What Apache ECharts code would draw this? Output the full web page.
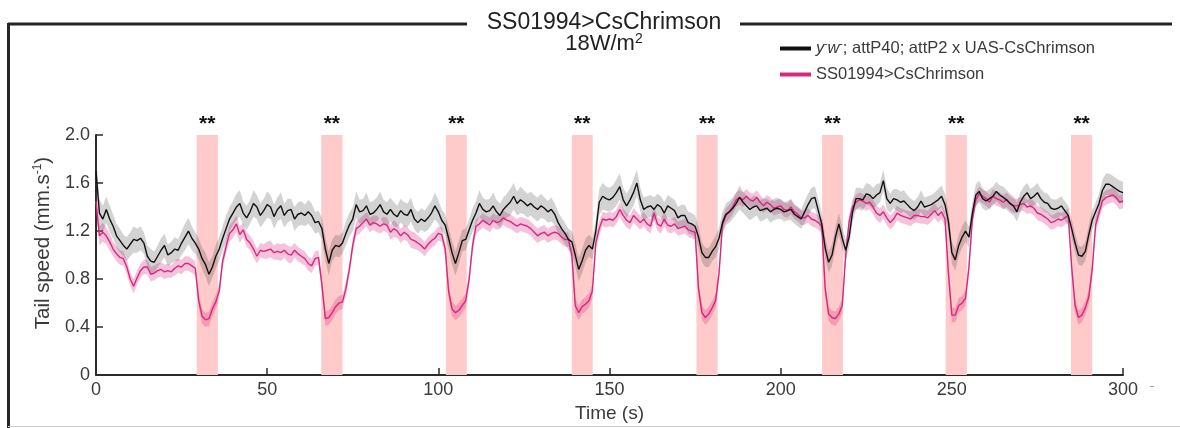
<!DOCTYPE html>
<html>
<head>
<meta charset="utf-8">
<script src="https://cdn.jsdelivr.net/npm/echarts@6/dist/echarts.min.js"></script>
<style>html,body{margin:0;padding:0;background:#fff}#c{width:1180px;height:428px}</style>
</head>
<body>
<div id="c"></div>
<script>
// ---------- data ----------
const ctrlName = 'y-w-; attP40; attP2 x UAS-CsChrimson';
const expName = 'SS01994>CsChrimson';
const titleText = 'SS01994>CsChrimson';
const subtitleText = '18W/m{sup|2}';
const xTicks = [0, 50, 100, 150, 200, 250, 300];
const yTicks = [0, 0.4, 0.8, 1.2, 1.6, 2.0];
const stimStart = [29.4, 65.8, 102.2, 139.0, 175.4, 212.1, 248.2, 284.8];
const stimEnd   = [35.6, 72.0, 108.3, 145.1, 181.6, 218.2, 254.4, 291.0];
const stimMark = ['**', '**', '**', '**', '**', '**', '**', '**'];

// mean tail speed, one value per second, t = 0..300 s
const ctrlMean = [
1.70,1.35,1.30,1.38,1.30,1.24,1.16,1.12,1.08,1.05,
1.09,1.13,1.12,1.14,1.10,0.99,0.95,0.94,0.99,1.04,
1.08,1.00,1.02,1.05,1.04,1.10,1.15,1.20,1.14,1.10,
1.05,0.97,0.92,0.84,0.90,0.99,1.05,1.14,1.22,1.30,
1.35,1.40,1.43,1.35,1.31,1.36,1.43,1.40,1.33,1.37,
1.42,1.40,1.32,1.38,1.41,1.33,1.37,1.38,1.30,1.34,
1.35,1.33,1.36,1.33,1.27,1.28,1.22,1.05,0.93,1.04,
1.08,1.07,1.10,1.18,1.25,1.30,1.42,1.36,1.37,1.41,
1.34,1.35,1.38,1.42,1.36,1.34,1.38,1.34,1.32,1.37,
1.34,1.33,1.38,1.30,1.27,1.30,1.28,1.31,1.35,1.41,
1.36,1.29,1.25,1.14,1.02,0.93,1.02,1.12,1.13,1.21,
1.29,1.35,1.43,1.38,1.36,1.37,1.41,1.36,1.33,1.38,
1.41,1.44,1.49,1.43,1.46,1.44,1.41,1.43,1.40,1.38,
1.41,1.39,1.36,1.38,1.34,1.27,1.22,1.18,1.13,1.11,
1.00,0.88,0.95,1.04,1.08,1.05,1.20,1.44,1.49,1.47,
1.46,1.48,1.52,1.57,1.46,1.41,1.46,1.52,1.60,1.46,
1.38,1.40,1.41,1.38,1.42,1.40,1.35,1.41,1.39,1.37,
1.31,1.33,1.33,1.27,1.26,1.24,1.15,1.02,0.98,0.98,
1.03,1.07,1.14,1.27,1.34,1.36,1.39,1.43,1.48,1.44,
1.41,1.38,1.40,1.41,1.37,1.38,1.39,1.36,1.38,1.39,
1.38,1.36,1.37,1.38,1.34,1.32,1.30,1.36,1.42,1.47,
1.48,1.37,1.26,1.06,0.94,1.00,1.15,1.26,1.14,1.04,
1.15,1.36,1.47,1.47,1.46,1.51,1.50,1.47,1.50,1.52,
1.62,1.47,1.43,1.47,1.46,1.44,1.45,1.42,1.39,1.37,
1.40,1.45,1.40,1.41,1.42,1.44,1.46,1.49,1.42,1.28,
1.02,0.96,1.08,1.15,1.20,1.15,1.35,1.50,1.53,1.47,
1.45,1.47,1.49,1.53,1.50,1.48,1.46,1.43,1.41,1.36,
1.44,1.49,1.52,1.47,1.49,1.52,1.47,1.44,1.43,1.39,
1.38,1.39,1.41,1.37,1.33,1.22,1.10,1.00,0.99,1.03,
1.17,1.29,1.36,1.43,1.54,1.59,1.59,1.57,1.55,1.53,
1.52];

const expMean = [
1.45,1.16,1.19,1.16,1.11,1.05,1.01,0.98,0.97,0.90,
0.80,0.74,0.81,0.87,0.90,0.90,0.84,0.85,0.87,0.88,
0.86,0.87,0.86,0.89,0.91,0.90,0.93,0.93,0.91,0.89,
0.62,0.49,0.46,0.47,0.55,0.61,0.70,0.95,1.07,1.18,
1.21,1.26,1.17,1.21,1.13,1.10,1.05,0.99,1.04,1.03,
1.04,1.05,1.02,1.03,1.02,1.04,1.01,1.00,1.04,1.01,
0.99,0.97,0.93,0.91,0.97,0.98,0.75,0.47,0.48,0.52,
0.57,0.60,0.61,0.72,0.88,1.08,1.22,1.24,1.27,1.30,
1.25,1.27,1.26,1.24,1.26,1.25,1.19,1.22,1.20,1.16,
1.19,1.17,1.13,1.12,1.10,1.08,1.05,1.09,1.12,1.14,
1.18,1.17,1.05,0.70,0.55,0.52,0.54,0.58,0.62,0.80,
1.08,1.24,1.26,1.29,1.27,1.25,1.29,1.27,1.28,1.31,
1.29,1.28,1.26,1.24,1.26,1.25,1.24,1.22,1.19,1.16,
1.18,1.19,1.16,1.18,1.19,1.18,1.15,1.13,1.13,1.00,
0.58,0.52,0.57,0.59,0.62,0.70,1.10,1.22,1.30,1.29,
1.30,1.29,1.32,1.38,1.33,1.29,1.27,1.33,1.30,1.27,
1.30,1.26,1.24,1.35,1.26,1.24,1.30,1.25,1.24,1.26,
1.22,1.23,1.24,1.21,1.20,1.19,0.72,0.52,0.48,0.51,
0.56,0.62,0.85,1.25,1.33,1.36,1.40,1.46,1.48,1.46,
1.49,1.46,1.45,1.48,1.44,1.41,1.44,1.42,1.39,1.40,
1.41,1.38,1.37,1.40,1.36,1.34,1.31,1.31,1.33,1.30,
1.29,1.27,1.24,0.72,0.51,0.48,0.47,0.51,0.58,1.00,
1.28,1.40,1.44,1.46,1.45,1.43,1.44,1.40,1.35,1.33,
1.36,1.31,1.27,1.30,1.35,1.33,1.32,1.31,1.30,1.33,
1.33,1.32,1.32,1.31,1.34,1.37,1.33,1.36,1.30,0.85,
0.50,0.50,0.58,0.60,0.64,0.90,1.30,1.46,1.51,1.49,
1.47,1.44,1.49,1.47,1.46,1.44,1.46,1.43,1.41,1.41,
1.42,1.43,1.40,1.41,1.39,1.35,1.34,1.32,1.30,1.27,
1.28,1.30,1.29,1.31,1.33,0.90,0.58,0.48,0.50,0.56,
0.65,0.88,1.25,1.35,1.45,1.48,1.49,1.50,1.48,1.44,
1.45];

// half-width of the shaded s.e.m. bands, one value per second
const ctrlSem = [
0.13,0.12,0.11,0.11,0.11,0.10,0.10,0.10,0.09,0.10,
0.10,0.11,0.10,0.10,0.09,0.09,0.10,0.09,0.09,0.10,
0.10,0.09,0.09,0.10,0.09,0.10,0.11,0.11,0.10,0.09,
0.09,0.09,0.10,0.10,0.09,0.10,0.10,0.10,0.11,0.10,
0.10,0.11,0.11,0.10,0.10,0.10,0.11,0.10,0.10,0.10,
0.11,0.10,0.10,0.10,0.11,0.10,0.10,0.09,0.10,0.10,
0.10,0.09,0.10,0.10,0.09,0.09,0.09,0.10,0.10,0.09,
0.09,0.09,0.09,0.10,0.10,0.10,0.11,0.10,0.10,0.11,
0.10,0.10,0.10,0.11,0.10,0.10,0.10,0.10,0.09,0.10,
0.10,0.10,0.10,0.09,0.09,0.09,0.09,0.10,0.10,0.11,
0.10,0.09,0.09,0.09,0.10,0.10,0.10,0.09,0.09,0.09,
0.10,0.10,0.11,0.10,0.10,0.10,0.11,0.10,0.10,0.10,
0.10,0.11,0.11,0.10,0.11,0.10,0.10,0.10,0.10,0.10,
0.10,0.09,0.09,0.10,0.09,0.09,0.09,0.09,0.09,0.09,
0.10,0.10,0.10,0.10,0.09,0.09,0.10,0.11,0.11,0.10,
0.10,0.10,0.11,0.11,0.10,0.10,0.10,0.11,0.11,0.10,
0.10,0.09,0.09,0.10,0.09,0.09,0.09,0.09,0.09,0.09,
0.09,0.09,0.09,0.09,0.09,0.09,0.09,0.08,0.08,0.08,
0.08,0.09,0.09,0.09,0.09,0.09,0.09,0.09,0.10,0.09,
0.09,0.09,0.09,0.08,0.09,0.09,0.08,0.09,0.09,0.09,
0.08,0.08,0.08,0.09,0.08,0.08,0.08,0.09,0.09,0.09,
0.09,0.09,0.09,0.09,0.09,0.09,0.09,0.09,0.09,0.09,
0.09,0.09,0.09,0.09,0.09,0.09,0.09,0.09,0.09,0.08,
0.09,0.09,0.08,0.08,0.09,0.09,0.09,0.08,0.08,0.08,
0.08,0.09,0.08,0.08,0.08,0.08,0.09,0.09,0.09,0.09,
0.09,0.09,0.09,0.09,0.09,0.09,0.09,0.09,0.09,0.08,
0.08,0.08,0.08,0.08,0.08,0.09,0.08,0.08,0.08,0.08,
0.08,0.08,0.08,0.08,0.08,0.08,0.08,0.08,0.08,0.08,
0.08,0.08,0.08,0.08,0.08,0.08,0.08,0.08,0.08,0.08,
0.08,0.08,0.08,0.08,0.09,0.09,0.09,0.09,0.09,0.09,
0.09];

const expSem = [
0.09,0.08,0.08,0.07,0.07,0.06,0.06,0.06,0.06,0.06,
0.06,0.06,0.06,0.06,0.06,0.06,0.06,0.06,0.06,0.06,
0.06,0.06,0.05,0.06,0.06,0.06,0.06,0.06,0.06,0.06,
0.06,0.06,0.06,0.06,0.06,0.06,0.06,0.06,0.06,0.07,
0.07,0.07,0.07,0.06,0.06,0.06,0.07,0.06,0.06,0.06,
0.07,0.07,0.06,0.07,0.07,0.06,0.07,0.07,0.06,0.06,
0.06,0.06,0.06,0.06,0.06,0.06,0.06,0.06,0.06,0.06,
0.06,0.06,0.06,0.06,0.06,0.06,0.06,0.06,0.06,0.06,
0.06,0.06,0.07,0.06,0.06,0.06,0.06,0.07,0.06,0.06,
0.06,0.06,0.07,0.07,0.06,0.06,0.06,0.06,0.06,0.06,
0.06,0.06,0.06,0.06,0.06,0.06,0.06,0.06,0.06,0.06,
0.06,0.06,0.06,0.06,0.06,0.06,0.06,0.06,0.06,0.06,
0.06,0.06,0.06,0.06,0.06,0.06,0.06,0.06,0.06,0.06,
0.06,0.06,0.06,0.06,0.06,0.06,0.06,0.06,0.06,0.06,
0.06,0.06,0.06,0.06,0.06,0.06,0.06,0.06,0.06,0.06,
0.06,0.06,0.06,0.06,0.06,0.06,0.06,0.06,0.06,0.06,
0.06,0.06,0.06,0.06,0.06,0.06,0.06,0.06,0.06,0.06,
0.06,0.06,0.06,0.06,0.06,0.06,0.06,0.06,0.06,0.06,
0.06,0.06,0.06,0.06,0.06,0.06,0.06,0.06,0.06,0.06,
0.06,0.06,0.06,0.06,0.06,0.06,0.06,0.06,0.06,0.06,
0.06,0.06,0.06,0.06,0.06,0.06,0.06,0.06,0.06,0.06,
0.06,0.06,0.06,0.06,0.06,0.06,0.06,0.06,0.06,0.06,
0.06,0.06,0.06,0.06,0.06,0.06,0.06,0.06,0.06,0.06,
0.06,0.06,0.06,0.06,0.06,0.06,0.06,0.06,0.06,0.06,
0.06,0.06,0.06,0.06,0.06,0.06,0.06,0.06,0.06,0.06,
0.06,0.06,0.06,0.06,0.06,0.06,0.06,0.06,0.06,0.06,
0.06,0.06,0.06,0.06,0.06,0.06,0.06,0.06,0.06,0.06,
0.06,0.06,0.06,0.06,0.06,0.06,0.06,0.06,0.06,0.06,
0.06,0.06,0.06,0.06,0.06,0.06,0.06,0.06,0.06,0.06,
0.06,0.06,0.06,0.06,0.06,0.06,0.06,0.06,0.06,0.06,
0.06];

// ---------- chart ----------
const FONT = '"Liberation Sans", Arial, sans-serif';
const TXT = '#3a3a3a';
const PINK = '#d8287e';

const pts = arr => arr.map((v, i) => [i, v]);

// shaded s.e.m. band drawn as one polygon through the axis coordinates
function band(mean, sem, fill, z) {
  const rows = mean.map((v, i) => [i, +(v - sem[i]).toFixed(3), +(v + sem[i]).toFixed(3)]);
  return {
    type: 'custom', silent: true, z: z, clip: true,
    data: rows,
    encode: { x: 0, y: [1, 2] },
    renderItem: (params, api) => {
      if (params.dataIndex !== 0) return null;
      const up = rows.map(r => api.coord([r[0], r[2]]));
      const lo = rows.map(r => api.coord([r[0], r[1]])).reverse();
      return { type: 'polygon', shape: { points: up.concat(lo) }, style: { fill: fill } };
    }
  };
}

const areas = stimStart.map((s, i) => [
  { xAxis: s, yAxis: yTicks[0], label: { formatter: stimMark[i] } },
  { xAxis: stimEnd[i], yAxis: yTicks[yTicks.length - 1] }
]);

const chart = echarts.init(document.getElementById('c'), null, { renderer: 'canvas' });
chart.setOption({
  animation: false,
  backgroundColor: '#fff',
  textStyle: { fontFamily: FONT },
  grid: { left: 96, right: 57, top: 135, bottom: 51, containLabel: false },
  legend: {
    orient: 'vertical', left: 775, top: 34, itemGap: 9,
    itemWidth: 31, itemHeight: 4, icon: 'rect',
    data: [ctrlName, expName],
    textStyle: { fontFamily: FONT, fontSize: 16.5, color: TXT,
      rich: { i: { fontStyle: 'italic', fontSize: 16.5, color: TXT, fontFamily: FONT },
              s: { fontSize: 10, color: TXT, padding: [0, 0, 9, 0], fontFamily: FONT } } },
    formatter: n => n === ctrlName ? '{i|y}{s|-}{i|w}{s|-}; attP40; attP2 x UAS-CsChrimson' : n
  },
  xAxis: {
    type: 'value', min: xTicks[0], max: xTicks[xTicks.length - 1], interval: 50,
    name: 'Time (s)', nameLocation: 'middle', nameGap: 24,
    nameTextStyle: { fontSize: 19, color: TXT, fontFamily: FONT },
    axisLine: { show: true, lineStyle: { color: '#2b2b2b', width: 2 } },
    axisTick: { show: true, inside: true, length: 7, lineStyle: { color: '#2b2b2b', width: 1.5 } },
    axisLabel: { fontSize: 18, color: TXT, margin: 6, fontFamily: FONT },
    splitLine: { show: false }
  },
  yAxis: {
    type: 'value', min: yTicks[0], max: yTicks[yTicks.length - 1], interval: 0.4,
    name: 'Tail speed (mm.s{sup|-1})', nameLocation: 'middle', nameGap: 29,
    nameTextStyle: { fontSize: 20.5, color: TXT, fontFamily: FONT, padding: [0, 0, 0, 24],
      rich: { sup: { fontSize: 12, color: TXT, padding: [0, 0, 11, 0], fontFamily: FONT } } },
    axisLine: { show: true, lineStyle: { color: '#2b2b2b', width: 2 } },
    axisTick: { show: true, inside: true, length: 7, lineStyle: { color: '#2b2b2b', width: 1.5 } },
    axisLabel: { fontSize: 18, color: TXT, margin: 6, fontFamily: FONT,
      formatter: v => v === 0 ? '0' : v.toFixed(1) },
    splitLine: { show: false }
  },
  series: [
    { type: 'line', name: '_stim', data: [], symbol: 'none', silent: true, z: 1,
      markArea: { silent: true, itemStyle: { color: '#ffcaca' },
        label: { show: true, position: 'top', distance: 0, color: '#111', fontSize: 21,
                 fontWeight: 'bold', fontFamily: FONT },
        data: areas } },
    band(expMean, expSem, 'rgba(216,40,126,0.28)', 2),
    band(ctrlMean, ctrlSem, 'rgba(70,70,70,0.24)', 2),
    { type: 'line', name: expName, data: pts(expMean), symbol: 'none', color: PINK,
      lineStyle: { color: PINK, width: 1.4 }, z: 3 },
    { type: 'line', name: ctrlName, data: pts(ctrlMean), symbol: 'none', color: '#111',
      lineStyle: { color: '#111', width: 1.4 }, z: 4 }
  ],
  graphic: [
    { type: 'line', shape: { x1: 8, y1: 24, x2: 467, y2: 24 }, style: { stroke: '#262626', lineWidth: 3 } },
    { type: 'line', shape: { x1: 740, y1: 24, x2: 1172, y2: 24 }, style: { stroke: '#262626', lineWidth: 3 } },
    { type: 'line', shape: { x1: 8.5, y1: 23, x2: 8.5, y2: 428 }, style: { stroke: '#262626', lineWidth: 3 } },
    { type: 'line', shape: { x1: 8, y1: 426.5, x2: 1180, y2: 426.5 }, style: { stroke: '#d0d0d0', lineWidth: 1 } },
    { type: 'line', shape: { x1: 1150, y1: 386.5, x2: 1154, y2: 386.5 }, style: { stroke: '#9a9a9a', lineWidth: 1 } },
    { type: 'text', x: 604, y: 23, style: { text: titleText, fontSize: 23, fontFamily: FONT, fill: '#222',
      align: 'center', verticalAlign: 'middle' } },
    { type: 'text', x: 604, y: 44, style: { text: subtitleText, fontSize: 22, fontFamily: FONT, fill: '#222',
      align: 'center', verticalAlign: 'middle',
      rich: { sup: { fontSize: 14, fill: '#222', padding: [0, 0, 10, 0], fontFamily: FONT } } } }
  ]
});
</script>
</body>
</html>
